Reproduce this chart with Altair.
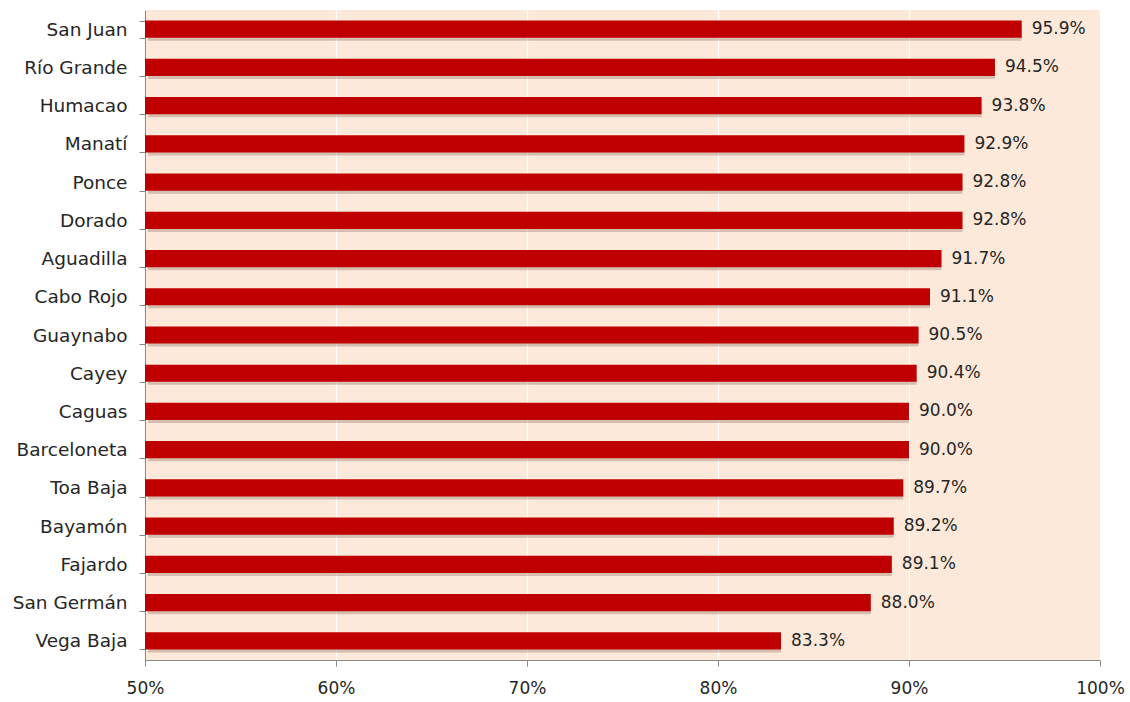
import altair as alt
import pandas as pd

cities = ["San Juan", "Río Grande", "Humacao", "Manatí", "Ponce", "Dorado", "Aguadilla",
          "Cabo Rojo", "Guaynabo", "Cayey", "Caguas", "Barceloneta", "Toa Baja", "Bayamón",
          "Fajardo", "San Germán", "Vega Baja"]
values = [95.9, 94.5, 93.8, 92.9, 92.8, 92.8, 91.7, 91.1, 90.5, 90.4, 90.0, 90.0, 89.7,
          89.2, 89.1, 88.0, 83.3]

df = pd.DataFrame({"city": cities, "value": [v / 100 for v in values]})

FONT = "DejaVu Sans"
FS = 17

y = alt.Y("city:N", sort=cities, title=None,
          scale=alt.Scale(paddingInner=0.55, paddingOuter=0.275),
          axis=alt.Axis(tickBand="extent", labelFontSize=18.5, labelFont=FONT,
                        labelColor="#262626", labelPadding=12, tickSize=6,
                        tickColor="#888888", domainColor="#888888", grid=False))
x = alt.X("value:Q", title=None,
          scale=alt.Scale(domain=[0.5, 1.0], zero=False, nice=False),
          axis=alt.Axis(format=".0%", values=[0.5, 0.6, 0.7, 0.8, 0.9, 1.0],
                        labelFontSize=FS, labelFont=FONT, labelColor="#262626",
                        labelFlush=False,
                        tickSize=6, tickColor="#888888", domainColor="#888888",
                        grid=True, gridColor="#ffffff", gridWidth=1.2, labelPadding=14))

base = alt.Chart(df)

shadow = base.mark_bar(color="#7a5a50", opacity=0.3, yOffset=3, x2Offset=3).encode(
    y=y, x=x, x2=alt.X2(datum=0.5))

bars = base.mark_bar(color="#C00000").encode(y=y, x=x, x2=alt.X2(datum=0.5))

labels = base.mark_text(align="left", baseline="middle", dx=10, fontSize=FS, font=FONT,
                        color="#262626").encode(
    y=y, x=x, text=alt.Text("value:Q", format=".1%"))

chart = alt.layer(shadow, bars, labels).properties(
    width=955, height=650,
    autosize=alt.AutoSizeParams(type="none"),
    padding={"left": 145, "top": 10, "right": 30, "bottom": 42},
    background="#ffffff",
).configure_view(fill="#FDE9D9", stroke=None)

chart.save("out.html", embed_options={"renderer": "svg", "actions": False})
